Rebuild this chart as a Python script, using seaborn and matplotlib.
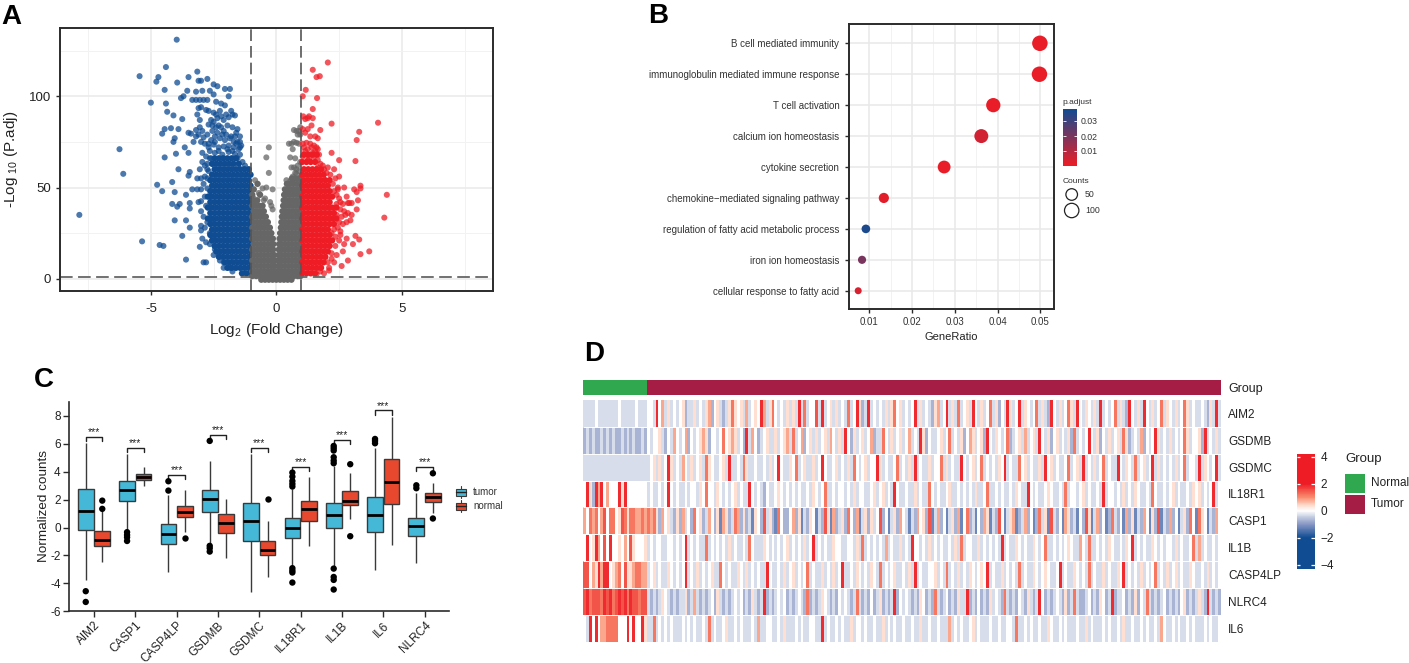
import matplotlib
matplotlib.use("Agg")
import numpy as np
import pandas as pd
import seaborn as sns
import matplotlib.pyplot as plt
from matplotlib.colors import LinearSegmentedColormap, ListedColormap, Normalize
from matplotlib.cm import ScalarMappable
from matplotlib.patches import Rectangle

# --- panel A: volcano, dense bands as (y, [x...]) and loose points as (x, y)
blue_band = [
    (3, [-1.03, -1.2, -1.37]),
    (6, [-1.1, -1.27, -1.44, -1.61, -1.78, -1.95]),
    (9, [-1.03, -1.2, -1.37, -1.54, -1.71, -1.88, -2.05]),
    (12, [-1.1, -1.27, -1.44, -1.61, -1.78, -1.95, -2.12, -2.29]),
    (15, [-1.03, -1.2, -1.37, -1.54, -1.71, -1.88, -2.05, -2.22, -2.39]),
    (18, [-1.1, -1.27, -1.44, -1.61, -1.78, -1.95, -2.12, -2.29, -2.46]),
    (21, [-1.03, -1.2, -1.37, -1.54, -1.71, -1.88, -2.05, -2.22, -2.39, -2.56]),
    (24, [-1.1, -1.27, -1.44, -1.61, -1.78, -1.95, -2.12, -2.29, -2.46, -2.63]),
    (27, [-1.03, -1.2, -1.37, -1.54, -1.71, -1.88, -2.05, -2.22, -2.39, -2.56]),
    (30, [-1.1, -1.27, -1.44, -1.61, -1.78, -1.95, -2.12, -2.29, -2.46, -2.63]),
    (33, [-1.03, -1.2, -1.37, -1.54, -1.71, -1.88, -2.05, -2.22, -2.39, -2.56, -2.73]),
    (36, [-1.1, -1.27, -1.44, -1.61, -1.78, -1.95, -2.12, -2.29, -2.46, -2.63]),
    (39, [-1.03, -1.2, -1.37, -1.54, -1.71, -1.88, -2.05, -2.22, -2.39, -2.56, -2.73]),
    (42, [-1.1, -1.27, -1.44, -1.61, -1.78, -1.95, -2.12, -2.29, -2.46, -2.63]),
    (45, [-1.03, -1.2, -1.37, -1.54, -1.71, -1.88, -2.05, -2.22, -2.39, -2.56, -2.73]),
    (48, [-1.1, -1.27, -1.44, -1.61, -1.78, -1.95, -2.12, -2.29, -2.46, -2.63]),
    (51, [-1.03, -1.2, -1.37, -1.54, -1.71, -1.88, -2.05, -2.22, -2.39, -2.56]),
    (54, [-1.1, -1.27, -1.44, -1.61, -1.78, -1.95, -2.12, -2.29, -2.46, -2.63]),
    (57, [-1.03, -1.2, -1.37, -1.54, -1.71, -1.88, -2.05, -2.22, -2.39, -2.56]),
    (60, [-1.1, -1.27, -1.44, -1.61, -1.78, -1.95, -2.12, -2.29, -2.46]),
    (63, [-1.5, -1.71, -1.88, -2.05, -2.22, -2.39, -2.56]),
    (66, [-1.61, -1.78, -1.95, -2.12, -2.29, -2.46]),
]
blue_loose = [
    (-3.97, 131), (-4.4, 116), (-5.45, 111), (-4.7, 110.5), (-4.78, 108), (-3.95, 107.5), (-3.5, 110.5),
    (-3.15, 113.5), (-3.1, 108.5), (-3.0, 108.5), (-2.75, 109.5), (-2.5, 106.5), (-2.35, 105.5), (-2.05, 104),
    (-1.85, 104), (-4.45, 103.5), (-3.55, 103), (-3.7, 100), (-3.8, 99), (-3.2, 102.5), (-2.95, 103),
    (-2.65, 103), (-2.5, 101), (-1.9, 100), (-5.0, 96.5), (-4.4, 96), (-3.35, 98), (-3.2, 98), (-3.05, 98),
    (-2.9, 98), (-2.75, 98), (-2.4, 97), (-2.2, 96), (-2.05, 95), (-4.35, 91.5), (-4.1, 89.5), (-3.75, 87.5),
    (-3.1, 93.5), (-3.0, 94), (-2.8, 92.5), (-2.7, 92), (-2.5, 91), (-1.8, 92), (-1.75, 90), (-1.65, 89.5),
    (-1.9, 88.5), (-3.15, 90), (-3.05, 87), (-2.35, 88), (-2.5, 86), (-2.2, 89), (-2.1, 87), (-4.45, 82),
    (-4.55, 79.5), (-4.2, 82.5), (-3.9, 82), (-3.5, 80), (-3.4, 79.5), (-3.2, 81.5), (-3.05, 83), (-2.95, 81),
    (-2.7, 84.5), (-2.4, 83), (-2.2, 83), (-1.55, 82), (-1.6, 80), (-2.55, 81), (-2.35, 80), (-2.15, 79),
    (-2.45, 78), (-2.25, 77), (-2.05, 76), (-1.85, 77), (-1.55, 75), (-1.45, 75), (-3.1, 79), (-2.9, 77.5),
    (-2.75, 79), (-3.0, 75), (-2.7, 74), (-2.5, 73.5), (-2.1, 72.5), (-1.9, 73), (-1.7, 72), (-1.5, 71),
    (-1.65, 68.5), (-1.45, 68), (-2.95, 69), (-2.65, 70), (-2.45, 69), (-2.3, 70), (-1.9, 69.5), (-2.8, 67),
    (-2.95, 64), (-2.75, 63), (-3.05, 60), (-2.75, 60), (-2.85, 56), (-2.75, 55), (-3.0, 55), (-2.9, 52),
    (-3.3, 75), (-3.65, 72), (-4.1, 75), (-4.05, 77), (-3.2, 78), (-4.45, 66.5), (-4.0, 68.5), (-3.5, 69),
    (-6.25, 71), (-6.1, 57.5), (-7.85, 35), (-5.35, 20.5), (-4.65, 18.5), (-4.5, 18), (-3.6, 10.5), (-2.9, 9),
    (-2.8, 9), (-3.75, 23.5), (-3.45, 28), (-3.0, 26.5), (-2.85, 28), (-3.6, 32), (-4.05, 32), (-3.45, 38.5),
    (-3.45, 41.5), (-4.15, 41), (-3.95, 39.5), (-3.85, 41), (-3.6, 46), (-4.15, 53), (-4.75, 51.5), (-4.55, 48),
    (-4.05, 47.5), (-3.35, 49), (-3.15, 49), (-3.0, 49), (-2.75, 49.5), (-3.0, 42.5), (-3.1, 42), (-2.85, 45),
    (-2.65, 45), (-3.9, 60), (-3.45, 58.5), (-3.5, 56.5), (-3.15, 55), (-3.0, 37), (-2.9, 34), (-2.75, 31),
    (-2.95, 22), (-2.8, 20), (-2.65, 19), (-2.5, 23), (-2.45, 16), (-2.3, 13), (-2.5, 13), (-2.25, 10),
    (-2.1, 9), (-2.1, 6), (-1.85, 6), (-1.75, 4), (-2.65, 25), (-2.6, 31), (-2.8, 40), (-3.0, 29), (-3.05, 17.5),
    (-1.35, 64), (-1.25, 62), (-1.55, 66), (-1.75, 70), (-1.95, 71), (-2.15, 68), (-2.3, 72), (-2.45, 75),
    (-2.6, 76), (-2.7, 72), (-2.85, 74), (-1.45, 72), (-1.6, 74), (-1.7, 75), (-1.8, 78), (-2.0, 79), (-2.1, 81),
    (-2.3, 84), (-2.55, 84), (-2.6, 87), (-2.4, 90), (-2.25, 92), (-2.0, 90), (-1.95, 84), (-1.75, 83),
    (-1.65, 78), (-1.45, 78), (-1.4, 73), (-2.65, 66), (-2.55, 63), (-2.7, 59), (-2.6, 66), (-2.85, 62),
]
red_band = [
    (3, [1.03, 1.2, 1.37, 1.54]),
    (6, [1.1, 1.27, 1.44, 1.61, 1.78]),
    (9, [1.03, 1.2, 1.37, 1.54, 1.71, 1.88]),
    (12, [1.1, 1.27, 1.44, 1.61, 1.78, 1.95]),
    (15, [1.03, 1.2, 1.37, 1.54, 1.71, 1.88, 2.05]),
    (18, [1.1, 1.27, 1.44, 1.61, 1.78, 1.95, 2.12]),
    (21, [1.03, 1.2, 1.37, 1.54, 1.71, 1.88, 2.05, 2.22]),
    (24, [1.1, 1.27, 1.44, 1.61, 1.78, 1.95, 2.12]),
    (27, [1.03, 1.2, 1.37, 1.54, 1.71, 1.88, 2.05]),
    (30, [1.1, 1.27, 1.44, 1.61, 1.78, 1.95, 2.12, 2.29]),
    (33, [1.03, 1.2, 1.37, 1.54, 1.71, 1.88, 2.05, 2.22, 2.39]),
    (36, [1.1, 1.27, 1.44, 1.61, 1.78, 1.95, 2.12, 2.29]),
    (39, [1.03, 1.2, 1.37, 1.54, 1.71, 1.88, 2.05, 2.22, 2.39]),
    (42, [1.1, 1.27, 1.44, 1.61, 1.78, 1.95, 2.12]),
    (45, [1.03, 1.2, 1.37, 1.54, 1.71, 1.88, 2.05, 2.22]),
    (48, [1.1, 1.27, 1.44, 1.61, 1.78, 1.95, 2.12]),
    (51, [1.03, 1.2, 1.37, 1.54, 1.71, 1.88, 2.05]),
    (54, [1.1, 1.27, 1.44, 1.61, 1.78, 1.95, 2.12]),
    (57, [1.03, 1.2, 1.37, 1.54, 1.71, 1.88]),
    (60, [1.1, 1.27, 1.44, 1.61, 1.78]),
    (64, [1.03, 1.2, 1.37, 1.54]),
    (68, [1.1, 1.27, 1.44, 1.61]),
]
red_loose = [
    (2.05, 118.5), (1.45, 114.5), (1.6, 110.5), (1.73, 111), (1.17, 103.5), (1.05, 100), (1.62, 99), (1.45, 93),
    (1.07, 89), (1.3, 89), (1.45, 88), (1.15, 87.5), (1.25, 88), (1.25, 82), (1.4, 84), (1.75, 81.5), (1.65, 77),
    (1.55, 78), (2.2, 85), (4.05, 85.5), (3.3, 80.5), (3.2, 76), (3.15, 64.5), (2.5, 65), (2.2, 69), (4.4, 46),
    (4.3, 33.5), (3.35, 51), (3.35, 49.5), (3.1, 49), (3.2, 47.5), (2.45, 49), (2.7, 50), (3.25, 43), (3.0, 41.5),
    (2.9, 41.5), (2.85, 41.5), (3.2, 38), (2.4, 41), (2.8, 45), (3.0, 35), (2.95, 32), (2.8, 31), (2.65, 30),
    (3.3, 21.5), (3.15, 23.5), (2.8, 22), (3.05, 19), (2.7, 19), (3.7, 15), (3.35, 13.5), (2.85, 10), (2.6, 7),
    (2.3, 9), (2.1, 6), (1.9, 3), (1.05, 74), (1.2, 74.5), (1.35, 74), (1.5, 73), (1.65, 71), (1.15, 70), (1.45, 69),
    (1.7, 68), (1.25, 65), (1.65, 65), (1.85, 62), (2.05, 61), (2.3, 60), (2.15, 57), (2.35, 55), (2.0, 58),
    (2.5, 44), (2.55, 38), (2.7, 37), (2.85, 36), (2.6, 34), (2.45, 28), (2.55, 26), (2.35, 23), (2.5, 21),
    (2.65, 15), (2.4, 13), (2.2, 14), (2.3, 27), (2.2, 11), (2.05, 9), (2.45, 50), (2.3, 48), (2.5, 56),
    (1.1, 72), (1.25, 71), (1.4, 72), (1.55, 70), (1.75, 63), (1.65, 61), (1.9, 60), (1.05, 67), (1.35, 78),
    (1.15, 80), (1.05, 82), (1.6, 72), (1.5, 67), (1.3, 66), (2.25, 52), (2.4, 46), (2.55, 42), (2.65, 41),
    (2.75, 35), (2.4, 35), (2.5, 31), (2.35, 18), (2.2, 25), (2.55, 24), (2.1, 4.5), (1.75, 4), (1.6, 2.5),
]
gray_band = [
    (-0.5, [-0.6, -0.45, -0.3, -0.15, 0, 0.15, 0.3, 0.45, 0.6]),
    (1.5, [-0.96, -0.8, -0.65, -0.5, -0.35, -0.2, -0.05, 0.1, 0.25, 0.4, 0.55, 0.7, 0.85, 0.96]),
    (4, [-0.96, -0.82, -0.68, -0.54, -0.4, -0.26, -0.12, -0.04, 0.04, 0.12, 0.26, 0.4, 0.54, 0.68, 0.82, 0.96]),
    (7, [-0.9, -0.76, -0.62, -0.48, -0.34, -0.2, -0.08, 0.08, 0.2, 0.34, 0.48, 0.62, 0.76, 0.9]),
    (10, [-0.96, -0.82, -0.68, -0.54, -0.4, -0.26, -0.12, -0.06, 0.06, 0.12, 0.26, 0.4, 0.54, 0.68, 0.82, 0.96]),
    (13, [-0.9, -0.76, -0.62, -0.48, -0.34, -0.2, -0.09, 0.09, 0.2, 0.34, 0.48, 0.62, 0.76, 0.9]),
    (16, [-0.96, -0.82, -0.68, -0.54, -0.4, -0.26, -0.13, 0.1, 0.26, 0.4, 0.54, 0.68, 0.82, 0.96]),
    (19, [-0.9, -0.76, -0.62, -0.48, -0.34, -0.2, -0.12, 0.11, 0.2, 0.34, 0.48, 0.62, 0.76, 0.9]),
    (22, [-0.96, -0.82, -0.68, -0.54, -0.4, -0.26, -0.14, 0.13, 0.26, 0.4, 0.54, 0.68, 0.82, 0.96]),
    (25, [-0.9, -0.76, -0.62, -0.48, -0.34, -0.2, 0.15, 0.2, 0.34, 0.48, 0.62, 0.76, 0.9]),
    (28, [-0.96, -0.82, -0.68, -0.54, -0.4, -0.26, 0.18, 0.26, 0.4, 0.54, 0.68, 0.82, 0.96]),
    (31, [-0.9, -0.76, -0.62, -0.48, -0.34, 0.2, 0.34, 0.48, 0.62, 0.76, 0.9]),
    (34, [-0.96, -0.82, -0.68, -0.54, -0.42, 0.22, 0.26, 0.4, 0.54, 0.68, 0.82, 0.96]),
    (37, [-0.9, -0.76, -0.62, -0.5, 0.24, 0.34, 0.48, 0.62, 0.76, 0.9]),
    (40, [-0.96, -0.82, -0.68, -0.55, 0.27, 0.4, 0.54, 0.68, 0.82, 0.96]),
    (43, [-0.9, -0.76, 0.29, 0.34, 0.48, 0.62, 0.76, 0.9]),
    (46, [-0.96, -0.65, 0.31, 0.4, 0.54, 0.68, 0.82, 0.96]),
    (49, [-0.9, 0.34, 0.48, 0.62, 0.76, 0.9]),
    (52, [-0.75, 0.42, 0.54, 0.68, 0.82, 0.96]),
    (55, [0.62, 0.76, 0.9]),
]
gray_loose = [
    (-0.3, 72), (-0.4, 66.5), (-0.3, 58), (-0.85, 54), (-0.4, 50), (-0.55, 49.5), (-0.15, 49), (-0.7, 47), (-0.45, 44),
    (-0.5, 43), (-0.25, 42), (-0.15, 38), (-0.2, 40), (-0.9, 44), (0.7, 81.5), (0.8, 81), (0.95, 83), (0.9, 81),
    (0.85, 79), (0.95, 79), (0.5, 74), (0.6, 74), (0.7, 75), (0.8, 74.5), (0.9, 74), (0.65, 71), (0.55, 66.5),
    (0.75, 66), (0.85, 62), (0.95, 64), (0.7, 61), (0.6, 61), (0.75, 58), (0.8, 60), (0.9, 59), (0.65, 56), (0.8, 57.5),
    (0.4, 54), (0.55, 53.5),
]

# --- panel B: enrichment dots
terms = [
    "B cell mediated immunity", "immunoglobulin mediated immune response", "T cell activation",
    "calcium ion homeostasis", "cytokine secretion", "chemokine\u2212mediated signaling pathway",
    "regulation of fatty acid metabolic process", "iron ion homeostasis", "cellular response to fatty acid",
]
gene_ratio = [0.0499, 0.0498, 0.039, 0.0362, 0.0275, 0.0134, 0.0092, 0.0083, 0.0074]
p_adjust = [0.001, 0.001, 0.001, 0.005, 0.001, 0.002, 0.036, 0.02, 0.004]
counts = [125, 124, 97, 90, 69, 34, 23, 21, 19]

# --- panel C: box summaries per gene
genes = ["AIM2", "CASP1", "CASP4LP", "GSDMB", "GSDMC", "IL18R1", "IL1B", "IL6", "NLRC4"]
tumor_low = [-3.75, -0.2, -3.18, -1.12, -4.61, -2.8, -2.8, -3.03, -2.56]
tumor_q1 = [-0.14, 1.89, -1.17, 1.12, -0.93, -0.74, 0.0, -0.31, -0.62]
tumor_med = [1.19, 2.7, -0.43, 2.08, 0.45, -0.05, 0.91, 0.91, 0.1]
tumor_q3 = [2.77, 3.37, 0.24, 2.72, 1.79, 0.72, 1.79, 2.2, 0.69]
tumor_high = [6.04, 5.28, 2.34, 4.8, 5.28, 2.75, 4.42, 5.69, 2.51]
normal_low = [-2.44, 2.99, -0.29, -2.15, -3.51, -1.31, 0.65, -1.24, 1.07]
normal_q1 = [-1.31, 3.39, 0.79, -0.41, -2.0, 0.48, 1.6, 1.67, 1.86]
normal_med = [-0.88, 3.63, 1.1, 0.36, -1.58, 1.34, 1.91, 3.25, 2.2]
normal_q3 = [-0.26, 3.87, 1.58, 1.0, -0.98, 1.89, 2.65, 4.92, 2.48]
normal_high = [1.2, 4.37, 2.7, 2.03, 0.45, 3.61, 3.94, 7.95, 3.22]
tumor_fliers = {
    "AIM2": [-4.56, -5.33], "CASP1": [-0.33, -0.53, -0.7, -0.96], "CASP4LP": [2.65, 3.32],
    "GSDMB": [6.21, -1.31, -1.48, -1.72], "IL18R1": [3.94, 3.65, 3.34, 3.13, 2.94, -2.91, -3.08, -3.22, -3.94],
    "IL1B": [5.85, 5.69, 5.52, 5.04, 4.8, 4.61, -2.94, -3.54, -3.75, -4.44], "IL6": [6.35, 6.21, 6.04],
    "NLRC4": [3.03, 2.82],
}
normal_fliers = {
    "AIM2": [1.93, 1.34], "CASP4LP": [-0.76], "GSDMC": [2.08], "IL1B": [4.54, -0.62], "NLRC4": [3.89, 0.65],
}
bracket_y = [6.47, 5.7, 3.75, 6.62, 5.69, 4.37, 6.26, 8.39, 4.32]

# --- panel D: heatmap, one code string per gene, codes index z_levels
z_levels = [-1.2, -0.7, -0.3, 0, 0.35, 0.8, 1.2, 1.5, 1.85]
heat_genes = ["AIM2", "GSDMB", "GSDMC", "IL18R1", "CASP1", "IL1B", "CASP4LP", "NLRC4", "IL6"]
n_normal = 22
n_tumor = 198
aim2 = ("2222322222 2232222232 22"
        "3328352423 2341224232 4513421246 4342523438 5246323242 4282623372 8234242326 2384128232 3242463423 2382423214 "
        "5238242623 4283242362 4132842382 4323624218 3242364283 2432428232 3624218324 2832423624 3242364232 23214282")
gsdmb = ("1212112121 2112121211 21"
         "3233421325 3235132345 4133236345 4231825312 3422423452 6235134242 3425324283 1423423512 2632423423 5232841322 "
         "3423623241 3542341832 4323612342 5234283241 3423241623 2383241324 2342641232 5132384232 4232364233 41823242")
gsdmc = ("2222222222 2222222222 22"
         "2342423842 3253242342 6432234282 2326422322 3242383224 3623422423 8322342324 2632342338 4232236232 4282322423 "
         "3624232283 2342362323 2438232263 4232242834 2322362342 8232423623 2283243262 3423824232 3242362332 82432382")
il18r1 = ("3841858353 3384833333 33"
          "2322323832 3223233243 6332432323 4232283232 1322343232 3232232432 3622323323 2423322342 3423283223 2242322632 "
          "3223422323 2324223622 3232232432 2832322343 2232623323 4232232823 3232423243 2232632232 3423223243 42323823")
casp1 = ("5365635736 6347646655 65"
         "6564153421 4152316341 2531405412 6514120431 7241063113 5140214302 1740512416 3150241423 7130241532 0215341702 "
         "5130241503 6120315402 1730245012 5130162407 2130541203 1740251301 6213051402 1530417021 5130241630 64302153")
il1b = ("3834853738 3343537433 34"
        "2323322332 3238232322 6232323242 3223263222 4323232342 3232423823 2322433223 3242623232 3252322423 2833232423 "
        "2322324262 3322423232 3282322432 3224323622 3232343225 3262232324 3223243823 2322432323 3242322362 52322323")
casp4lp = ("7735485883 4563744566 55"
           "2342322432 3238232423 2342263232 2432423232 2832232423 4232362322 4232423822 3243232432 6232342232 4282322334 "
           "2326232423 2432343823 2242323262 3224323432 2382322432 3262322423 2243823232 4232362324 2342322432 23242323")
nlrc4 = ("7867776878 6787868776 77"
         "2121243212 1224125212 1231421212 3231214212 8121232312 1232161212 4321213232 1262121312 4121281323 2121431216 "
         "2123121422 8121312142 3216212132 1421283121 2321412621 1231214312 8122312141 3262121231 2121341212 42182121")
il6 = ("3283835566 6633383833 84"
       "2262323232 2232323223 2623223422 3232223252 2332232422 2323223322 8232232322 4233232232 2423232232 2322422322 "
       "3222523232 2342322232 2322332622 3232232243 2232322232 2423222323 2232422322 3232232532 2323223232 22323223")
heat_rows = [aim2, gsdmb, gsdmc, il18r1, casp1, il1b, casp4lp, nlrc4, il6]

W, H = 1409, 663
BLUE, RED, GRAY = "#0F4C92", "#EE1C25", "#666666"
DARK = "#2B2B2B"

sns.set_theme(style="white")
plt.rcParams["font.family"] = ["Liberation Sans", "DejaVu Sans"]
plt.rcParams["mathtext.default"] = "regular"
plt.rcParams["axes.unicode_minus"] = False

fig = plt.figure(figsize=(W / 100, H / 100), dpi=100)


def px_axes(left, top, right, bottom, **kw):
    return fig.add_axes([left / W, 1 - bottom / H, (right - left) / W, (bottom - top) / H], **kw)


def frame(ax, lw=1.4):
    for s in ax.spines.values():
        s.set_visible(True)
        s.set_color(DARK)
        s.set_linewidth(lw)


# Panel A
band_rows = []
loose_rows = []
for name, band, loose in [("down", blue_band, blue_loose), ("none", gray_band, gray_loose), ("up", red_band, red_loose)]:
    for y, xs in band:
        band_rows += [(x, y, name) for x in xs]
    loose_rows += [(x, y, name) for x, y in loose]
volcano_band = pd.DataFrame(band_rows, columns=["log2fc", "logp", "change"])
volcano_loose = pd.DataFrame(loose_rows, columns=["log2fc", "logp", "change"])
change_colors = {"down": BLUE, "none": GRAY, "up": RED}

ax = px_axes(60, 28, 493, 291)
ax.set_axisbelow(True)
ax.set_xticks([-5, 0, 5])
ax.set_xticks([-7.5, -2.5, 2.5, 7.5], minor=True)
ax.set_yticks([0, 50, 100])
ax.set_yticks([25, 75, 125], minor=True)
ax.grid(True, which="major", color="#EBEBEB", lw=1.2)
ax.grid(True, which="minor", color="#F2F2F2", lw=0.7)
sns.scatterplot(data=volcano_loose, x="log2fc", y="logp", hue="change", palette=change_colors,
                s=19, linewidth=0, alpha=0.75, legend=False, ax=ax)
sns.scatterplot(data=volcano_band, x="log2fc", y="logp", hue="change", palette=change_colors,
                s=21, linewidth=0, legend=False, ax=ax)
for x in (-1, 1):
    ax.axvline(x, color="#555555", lw=1.2, dashes=(7, 3))
ax.axhline(1.2, color="#666666", lw=1.3, dashes=(7, 3))
ax.set_xlim(-8.62, 8.63)
ax.set_ylim(-6.7, 137.4)
ax.tick_params(axis="both", which="major", length=3, width=1, color=DARK, labelsize=9.5, labelcolor="#222222", bottom=True, left=True)
ax.tick_params(axis="x", which="major", pad=6)
ax.tick_params(axis="both", which="minor", length=0)
ax.set_xlabel("Log$_2$ (Fold Change)", fontsize=11, color="#222222", labelpad=4)
ax.set_ylabel("-Log $_{10}$ (P.adj)", fontsize=11, color="#222222", labelpad=6)
frame(ax)

# Panel B
cmap_b = LinearSegmentedColormap.from_list("padj", [RED, BLUE])
norm_b = Normalize(0.0, 0.0382)
enrich = pd.DataFrame({"term": terms, "ratio": gene_ratio, "padj": p_adjust, "count": counts})
# dot diameter in px grows with the root of the count, like scale_size
dot_d = {c: 7 + 8.5 * np.sqrt((c - 19) / 106) for c in counts}
dot_s = {c: (d * 0.72) ** 2 for c, d in dot_d.items()}

ax = px_axes(849, 24.3, 1054.3, 309)
ax.set_axisbelow(True)
ax.set_xticks([0.01, 0.02, 0.03, 0.04, 0.05])
ax.set_xticks([0.015, 0.025, 0.035, 0.045], minor=True)
ax.grid(True, which="major", color="#E8E8E8", lw=1.1)
ax.grid(True, which="minor", axis="x", color="#F0F0F0", lw=0.6)
sns.scatterplot(data=enrich, x="ratio", y="term", hue="padj", palette=cmap_b, hue_norm=norm_b,
                size="count", sizes=dot_s, linewidth=0, legend=False, ax=ax)
ax.set_xlim(0.00525, 0.05327)
ax.set_ylim(8.59, -0.614)
ax.tick_params(axis="both", which="major", length=3, width=1, color=DARK, labelcolor="#333333", labelsize=7, bottom=True, left=True, pad=3)
ax.tick_params(axis="y", pad=4)
ax.set_xlabel("GeneRatio", fontsize=8, color="#222222", labelpad=3)
ax.set_ylabel("")
frame(ax)

cax = px_axes(1062.7, 108.7, 1076.7, 166)
cb = fig.colorbar(ScalarMappable(norm_b, cmap_b), cax=cax)
cb.outline.set_visible(False)
cb.set_ticks([0.01, 0.02, 0.03], labels=["0.01", "0.02", "0.03"])
cax.tick_params(length=0, labelsize=6.3, labelcolor="#333333", pad=3)
cax.hlines([0.01, 0.02, 0.03], 0, 0.2, color="white", lw=0.6, transform=cax.get_yaxis_transform())
cax.hlines([0.01, 0.02, 0.03], 0.8, 1, color="white", lw=0.6, transform=cax.get_yaxis_transform())

# Panel C
box_rows = []
for grp, low, q1, med, q3, high in [("tumor", tumor_low, tumor_q1, tumor_med, tumor_q3, tumor_high),
                                    ("normal", normal_low, normal_q1, normal_med, normal_q3, normal_high)]:
    for i, g in enumerate(genes):
        # repeated values pin the quartiles to the summary
        vals = [low[i]] + [q1[i]] * 3 + [med[i]] * 3 + [q3[i]] * 3 + [high[i]]
        box_rows += [(g, grp, v) for v in vals]
boxes = pd.DataFrame(box_rows, columns=["gene", "group", "value"])
flier_rows = [(g, "tumor", v) for g, vs in tumor_fliers.items() for v in vs]
flier_rows += [(g, "normal", v) for g, vs in normal_fliers.items() for v in vs]
fliers = pd.DataFrame(flier_rows, columns=["gene", "group", "value"])

ax = px_axes(69, 401.7, 449, 611.3)
sns.boxplot(data=boxes, x="gene", y="value", hue="group", order=genes, hue_order=["tumor", "normal"],
            palette={"tumor": "#45B8D8", "normal": "#E8492E"}, saturation=1, width=0.8, gap=0.05, whis=(0, 100),
            showfliers=False, showcaps=False, linewidth=1, linecolor="#3A3A3A",
            medianprops={"color": "black", "linewidth": 2}, legend=False, ax=ax)
sns.stripplot(data=fliers, x="gene", y="value", hue="group", order=genes, hue_order=["tumor", "normal"],
              palette={"tumor": "black", "normal": "black"}, dodge=True, jitter=False, size=4.6, legend=False, ax=ax)
for i, y in enumerate(bracket_y):
    ax.plot([i - 0.2, i - 0.2, i + 0.2, i + 0.2], [y - 0.3, y, y, y - 0.3], color="#222222", lw=1)
    ax.text(i, y - 0.02, "***", ha="center", va="bottom", fontsize=7.5, color="#222222")
ax.set_xlim(-0.605, 8.59)
ax.set_ylim(-6, 9.02)
ax.set_yticks(range(-6, 9, 2))
ax.set_xlabel("")
ax.set_ylabel("Normalized counts", fontsize=9.7, color="#222222", labelpad=0)
ax.tick_params(axis="both", length=4, width=1, color=DARK, labelsize=8.5, labelcolor="#222222", bottom=True, left=True, pad=2)
plt.setp(ax.get_xticklabels(), rotation=45, ha="right", rotation_mode="anchor", fontsize=8.5)
sns.despine(ax=ax)
for s in ("left", "bottom"):
    ax.spines[s].set_color(DARK)
    ax.spines[s].set_linewidth(1.2)

# Panel D
nodes = [(-4.3, BLUE), (-2, BLUE), (-1, "#8696C4"), (-0.4, "#CBD2E5"), (0, "#FFFFFF"),
         (0.4, "#FFDCCE"), (1, "#F98C6E"), (2, RED), (4.2, RED)]
cmap_d = LinearSegmentedColormap.from_list("heat", [((v + 4.3) / 8.5, c) for v, c in nodes])
n_cols = n_normal + n_tumor
matrix = [[z_levels[int(ch)] for ch in r.replace(" ", "").ljust(n_cols, "2")[:n_cols]] for r in heat_rows]
heat = pd.DataFrame(matrix, index=heat_genes)

ax = px_axes(583, 380, 1221, 394.7)
groups = pd.DataFrame([[0] * n_normal + [1] * n_tumor], index=["Group"])
sns.heatmap(groups, cmap=ListedColormap(["#2FA84F", "#A51C45"]), cbar=False, xticklabels=False, yticklabels=True, ax=ax)
ax.yaxis.tick_right()
ax.tick_params(axis="y", length=0, labelsize=9, labelcolor="#222222", pad=5, labelrotation=0)

ax = px_axes(583, 400, 1221, 641.7)
cax = px_axes(1296.7, 454, 1315, 569)
sns.heatmap(heat, cmap=cmap_d, vmin=-4.3, vmax=4.2, cbar_ax=cax, xticklabels=False, yticklabels=True, ax=ax)
ax.hlines(range(1, 9), 0, n_cols, color="white", lw=0.7)
ax.yaxis.tick_right()
ax.tick_params(axis="y", length=0, labelsize=8.5, labelcolor="#222222", pad=5, labelrotation=0)
cax.set_yticks([-4, -2, 0, 2, 4], labels=["\u22124", "\u22122", "0", "2", "4"])
cax.tick_params(length=0, labelsize=8.5, labelcolor="#222222", pad=4)
cax.hlines([-4, -2, 2, 4], 0, 0.2, color="white", lw=0.9, transform=cax.get_yaxis_transform())
cax.hlines([-4, -2, 2, 4], 0.8, 1, color="white", lw=0.9, transform=cax.get_yaxis_transform())

# overlay in pixel coordinates for panel letters and hand built legends
ov = fig.add_axes([0, 0, 1, 1], facecolor="none", zorder=10)
ov.set_xlim(0, W)
ov.set_ylim(H, 0)
ov.axis("off")
for letter, x, y in [("A", 1, 24), ("B", 648, 23), ("C", 34, 387), ("D", 584, 361)]:
    ov.text(x, y, letter, fontsize=20, fontweight="bold", color="black", ha="left", va="baseline")

# legend B
ov.text(1062.7, 103, "p.adjust", fontsize=6, color="#333333", va="center")
ov.text(1062.7, 181.5, "Counts", fontsize=6, color="#333333", va="center")
ov.scatter([1071.7, 1071.7], [194.5, 210.5], s=[(11.6 * 0.72) ** 2, (14.4 * 0.72) ** 2],
           facecolor="white", edgecolor="#222222", linewidth=0.9)
ov.text(1085, 194.5, "50", fontsize=6.3, color="#333333", va="center")
ov.text(1085, 210.5, "100", fontsize=6.3, color="#333333", va="center")

# legend C
for label, y, col in [("tumor", 492.3, "#45B8D8"), ("normal", 506.3, "#E8492E")]:
    ov.plot([461, 461], [y - 6, y + 6], color="#3A3A3A", lw=0.8)
    ov.add_patch(Rectangle((456, y - 3.7), 10, 7.4, facecolor=col, edgecolor="#3A3A3A", lw=0.8, zorder=3))
    ov.plot([456, 466], [y, y], color="#222222", lw=1, zorder=4)
    ov.text(473, y, label, fontsize=7, color="#333333", va="center")

# legend D
ov.text(1345, 459, "Group", fontsize=9.5, color="#222222", va="center")
ov.add_patch(Rectangle((1345, 473.5), 20, 19.5, facecolor="#2FA84F", edgecolor="none"))
ov.add_patch(Rectangle((1345, 494.5), 20, 19.5, facecolor="#A51C45", edgecolor="none"))
ov.text(1371, 483.5, "Normal", fontsize=8.5, color="#222222", va="center")
ov.text(1371, 504, "Tumor", fontsize=8.5, color="#222222", va="center")

fig.savefig("out.png", dpi=100)
